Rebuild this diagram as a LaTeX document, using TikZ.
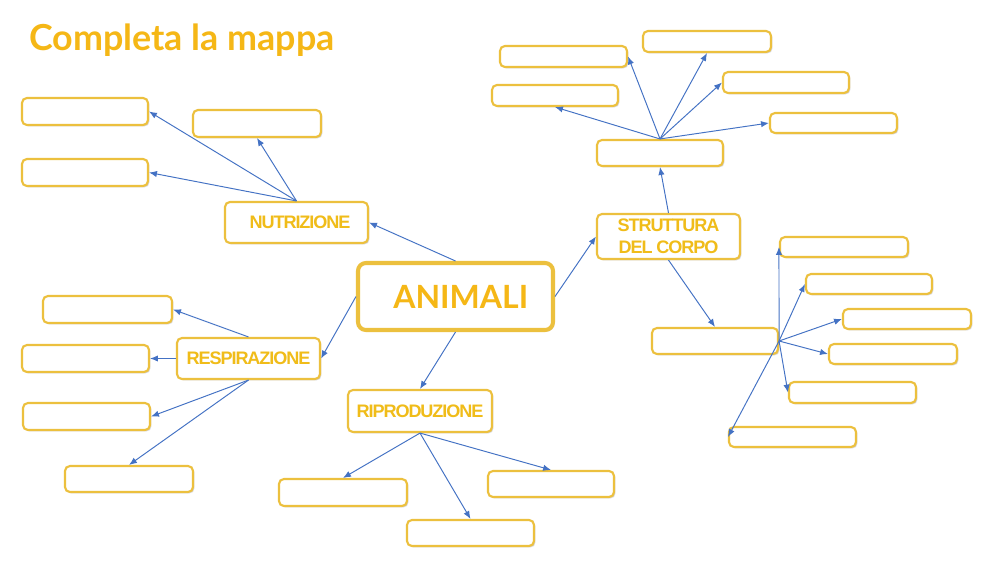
\documentclass[tikz,border=0pt]{standalone}
\usepackage{fontspec}
\setmainfont{Liberation Sans}
\newfontfamily\titlefont{Lato}
\newfontfamily\labfont[LetterSpace=-6]{Liberation Sans}
\usetikzlibrary{arrows.meta,shadows}
\definecolor{gold}{RGB}{245,183,22}
\definecolor{boxgold}{RGB}{236,192,62}
\definecolor{labgold}{RGB}{240,188,25}
\definecolor{arrblue}{RGB}{68,114,196}
\tikzset{
  box/.style={draw=boxgold, line width=1.2pt, rounded corners=2.8pt, fill=white, inner sep=0pt,
    drop shadow={shadow xshift=0.8pt, shadow yshift=-0.8pt, opacity=0.35, fill=black!45}},
  lab/.style={text=labgold, font=\labfont\bfseries\fontsize{10.3}{12.5}\selectfont, align=center},
  bigbox/.style={draw=boxgold, line width=2.3pt, rounded corners=4.5pt, fill=white, inner sep=0pt,
    drop shadow={shadow xshift=0.9pt, shadow yshift=-0.9pt, opacity=0.3, fill=black!45}},
  arr/.style={draw=arrblue, line width=0.55pt, -{Latex[length=4.5pt,width=3.6pt]}}
}
% \bx[opts]{name}{x1}{y1}{x2}{y2}{text}
\newcommand\bx[7][]{\path ({(#3+#5)/2},{(#4+#6)/2}) node[box,#1,minimum width={(#5-#3)*0.02cm},minimum height={(#6-#4)*0.02cm}] (#2) {#7};}
\begin{document}
\begin{tikzpicture}[x=0.02cm,y=-0.02cm]
\useasboundingbox[fill=white] (0,0) rectangle (1000,562);
% title
\node[anchor=base west, inner sep=0pt, text=gold, font=\titlefont\bfseries\fontsize{20.4}{24}\selectfont] (title) at (29,50) {Completa la mappa};
% central
\path (455.5,296.5) node[bigbox, minimum width={195*0.02cm}, minimum height={67*0.02cm}, text=gold, font=\titlefont\bfseries\fontsize{18.2}{22}\selectfont] (ani) {\hspace*{6pt}ANIMALI};
% main categories
\bx[lab]{nut}{225}{202}{368}{243}{\hspace*{4pt}NUTRIZIONE}
\bx[lab]{resp}{177}{338}{320}{379}{RESPIRAZIONE}
\bx[lab]{rip}{348}{390}{492}{432}{RIPRODUZIONE}
\bx[lab]{str}{597}{214}{740}{259}{STRUTTURA\\DEL CORPO}
% nutrizione children
\bx{A}{22}{98}{148}{125}{}
\bx{B}{193}{110}{321}{137}{}
\bx{C}{22}{159}{148}{186}{}
% struttura children
\bx{S}{597}{140}{723}{166}{}
\bx{S1}{500}{46}{627}{67}{}
\bx{S2}{643}{31}{771}{52}{}
\bx{S3}{723}{72}{849}{93}{}
\bx{S4}{770}{113}{897}{133}{}
\bx{S5}{492}{85}{618}{106}{}
\bx{T}{652}{328}{778}{354}{}
\bx{U1}{780}{237}{908}{257}{}
\bx{U2}{806}{274}{932}{294}{}
\bx{U3}{843}{309}{971}{329}{}
\bx{U4}{829}{344}{957}{364}{}
\bx{U5}{789}{382}{916}{403}{}
\bx{U6}{729}{427}{856}{447}{}
% respirazione children
\bx{R1}{43}{296}{172}{323}{}
\bx{R2}{22}{345}{149}{372}{}
\bx{R3}{23}{403}{150}{430}{}
\bx{R4}{65}{466}{193}{492}{}
% riproduzione children
\bx{P1}{279}{479}{407}{506}{}
\bx{P2}{407}{520}{534}{546}{}
\bx{P3}{488}{471}{614}{497}{}
% arrows
\draw[arr] (ani.north) -- (nut.east);
\draw[arr] (ani.west) -- (resp.east);
\draw[arr] (ani.south) -- (rip.north);
\draw[arr] (ani.east) -- (str.west);
\draw[arr] (nut.north) -- (A.east);
\draw[arr] (nut.north) -- (B.south);
\draw[arr] (nut.north) -- (C.east);
\draw[arr] (str.north) -- (S.south);
\draw[arr] (S.north) -- (S1.east);
\draw[arr] (S.north) -- (S2.south);
\draw[arr] (S.north) -- (S3.west);
\draw[arr] (S.north) -- (S4.west);
\draw[arr] (S.north) -- (S5.south);
\draw[arr] (str.south) -- (T.north);
\draw[arr] (T.east) -- (U1.west);
\draw[arr] (T.east) -- (U2.west);
\draw[arr] (T.east) -- (U3.west);
\draw[arr] (T.east) -- (U4.west);
\draw[arr] (T.east) -- (U5.west);
\draw[arr] (T.east) -- (U6.west);
\draw[arr] (resp.north) -- (R1.east);
\draw[arr] (resp.west) -- (R2.east);
\draw[arr] (resp.south) -- (R3.east);
\draw[arr] (resp.south) -- (R4.north);
\draw[arr] (rip.south) -- (P1.north);
\draw[arr] (rip.south) -- (P2.north);
\draw[arr] (rip.south) -- (P3.north);
\end{tikzpicture}
\end{document}
